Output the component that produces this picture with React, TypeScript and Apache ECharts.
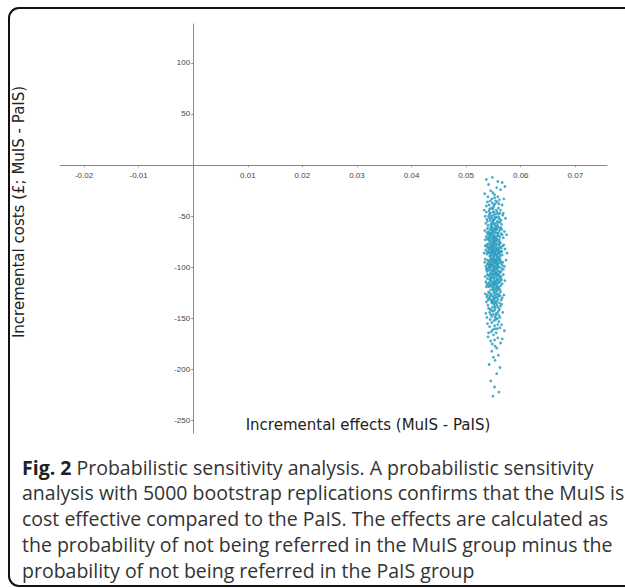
import React, { useEffect, useRef } from "react";
import * as echarts from "echarts";

const xTicks = [-0.02, -0.01, 0.01, 0.02, 0.03, 0.04, 0.05, 0.06, 0.07];
const yTicks = [100, 50, -50, -100, -150, -200, -250];

const xTitle = "Incremental effects (MuIS - PaIS)";
const yTitle = "Incremental costs (£; MuIS - PaIS)";

const captionLines = [
  "{b|Fig. 2} Probabilistic sensitivity analysis. A probabilistic sensitivity",
  "analysis with 5000 bootstrap replications confirms that the MuIS is",
  "cost effective compared to the PaIS. The effects are calculated as",
  "the probability of not being referred in the MuIS group minus the",
  "probability of not being referred in the PaIS group",
];

// bootstrap replications: [incremental effect, incremental cost]
const replications: [number, number][] = [
  [0.0541,-19],[0.0556,-22],[0.0549,-27],[0.0563,-24],[0.0534,-28],[0.0552,-29],[0.0571,-21],[0.0545,-25],[0.0537,-14],[0.0558,-16],[0.0548,-12],[0.0566,-17],
  [0.0558,-31],[0.0547,-33],[0.0539,-36],[0.0553,-38],[0.0561,-34],[0.0550,-41],[0.0543,-43],[0.0566,-39],[0.0555,-44],[0.0548,-37],[0.0537,-40],[0.0559,-42],[0.0552,-32],[0.0544,-35],[0.0563,-44],[0.0551,-39],[0.0540,-31],[0.0557,-36],[0.0546,-42],[0.0569,-33],[0.0554,-35],[0.0533,-44],[0.0560,-38],[0.0549,-43],[0.0542,-39],
  [0.0551,-46],[0.0543,-48],[0.0562,-47],[0.0556,-51],[0.0538,-53],[0.0549,-55],[0.0567,-49],[0.0545,-58],[0.0559,-56],[0.0553,-59],[0.0541,-50],[0.0548,-52],[0.0564,-54],[0.0536,-57],[0.0557,-46],[0.0552,-53],[0.0546,-60],[0.0560,-51],[0.0544,-47],[0.0555,-57],[0.0539,-55],[0.0550,-49],[0.0572,-52],[0.0547,-56],[0.0558,-59],[0.0542,-45],[0.0554,-48],[0.0565,-58],[0.0535,-50],[0.0549,-46],[0.0561,-53],[0.0544,-54],[0.0553,-51],[0.0540,-59],[0.0557,-55],[0.0548,-58],[0.0568,-47],[0.0551,-57],[0.0546,-50],[0.0559,-48],[0.0537,-46],[0.0555,-60],[0.0543,-52],[0.0562,-56],[0.0550,-54],
  [0.0548,-61],[0.0556,-63],[0.0541,-65],[0.0563,-62],[0.0552,-67],[0.0545,-69],[0.0559,-66],[0.0537,-70],[0.0550,-72],[0.0566,-68],[0.0543,-74],[0.0554,-71],[0.0547,-64],[0.0561,-73],[0.0539,-62],[0.0557,-69],[0.0551,-75],[0.0544,-67],[0.0570,-65],[0.0549,-70],[0.0535,-73],[0.0558,-61],[0.0546,-72],[0.0553,-64],[0.0562,-70],[0.0540,-68],[0.0555,-66],[0.0548,-74],[0.0565,-63],[0.0542,-71],[0.0552,-62],[0.0560,-75],[0.0538,-66],[0.0549,-63],[0.0557,-72],[0.0545,-61],[0.0564,-67],[0.0551,-69],[0.0534,-64],[0.0556,-74],[0.0547,-68],[0.0561,-64],[0.0543,-70],[0.0554,-73],[0.0568,-71],[0.0550,-65],[0.0541,-73],[0.0558,-67],[0.0546,-66],[0.0553,-70],[0.0539,-72],[0.0563,-61],[0.0552,-74],[0.0544,-63],[0.0559,-69],[0.0548,-66],[0.0574,-68],[0.0555,-62],[0.0542,-67],[0.0550,-71],
  [0.0553,-76],[0.0545,-78],[0.0561,-77],[0.0539,-80],[0.0550,-82],[0.0567,-79],[0.0547,-84],[0.0558,-81],[0.0542,-86],[0.0555,-88],[0.0536,-83],[0.0552,-87],[0.0564,-85],[0.0548,-76],[0.0557,-89],[0.0544,-81],[0.0560,-83],[0.0551,-79],[0.0540,-77],[0.0566,-88],[0.0549,-85],[0.0556,-77],[0.0543,-89],[0.0562,-80],[0.0546,-82],[0.0554,-84],[0.0538,-87],[0.0559,-86],[0.0551,-90],[0.0571,-82],[0.0547,-80],[0.0541,-84],[0.0556,-82],[0.0563,-76],[0.0549,-88],[0.0535,-79],[0.0553,-81],[0.0545,-87],[0.0560,-78],[0.0552,-85],[0.0544,-76],[0.0558,-90],[0.0548,-83],[0.0565,-84],[0.0539,-85],[0.0555,-79],[0.0550,-77],[0.0542,-82],[0.0561,-87],[0.0546,-89],[0.0557,-84],[0.0569,-78],[0.0553,-86],[0.0540,-81],[0.0549,-80],[0.0562,-89],[0.0545,-85],[0.0554,-78],[0.0537,-78],[0.0559,-82],[0.0551,-83],[0.0547,-86],[0.0564,-81],[0.0543,-79],[0.0556,-87],[0.0533,-86],[0.0552,-89],[0.0560,-85],[0.0548,-78],[0.0575,-86],
  [0.0550,-91],[0.0558,-93],[0.0544,-95],[0.0562,-92],[0.0539,-97],[0.0553,-99],[0.0547,-94],[0.0566,-98],[0.0556,-101],[0.0541,-103],[0.0551,-96],[0.0560,-104],[0.0545,-100],[0.0535,-92],[0.0557,-95],[0.0549,-102],[0.0564,-96],[0.0543,-98],[0.0552,-93],[0.0559,-99],[0.0538,-101],[0.0555,-105],[0.0546,-91],[0.0568,-102],[0.0550,-97],[0.0542,-94],[0.0561,-100],[0.0554,-92],[0.0548,-104],[0.0536,-99],[0.0557,-97],[0.0545,-103],[0.0563,-94],[0.0552,-101],[0.0540,-96],[0.0558,-103],[0.0547,-98],[0.0555,-94],[0.0570,-99],[0.0544,-92],[0.0551,-100],[0.0560,-96],[0.0538,-104],[0.0549,-93],[0.0565,-101],[0.0553,-95],[0.0541,-100],[0.0557,-91],[0.0546,-96],[0.0562,-105],[0.0550,-103],[0.0534,-95],[0.0556,-98],[0.0543,-101],[0.0559,-93],[0.0548,-99],[0.0567,-95],[0.0552,-104],[0.0539,-93],[0.0554,-102],[0.0545,-97],[0.0561,-91],[0.0551,-94],[0.0537,-102],[0.0558,-100],[0.0547,-92],[0.0564,-104],[0.0555,-96],[0.0542,-98],[0.0573,-93],
  [0.0552,-106],[0.0545,-108],[0.0560,-107],[0.0539,-111],[0.0556,-113],[0.0548,-110],[0.0565,-112],[0.0542,-115],[0.0553,-117],[0.0561,-109],[0.0536,-114],[0.0550,-119],[0.0557,-116],[0.0544,-106],[0.0563,-118],[0.0551,-111],[0.0540,-118],[0.0555,-109],[0.0547,-114],[0.0568,-107],[0.0554,-120],[0.0543,-112],[0.0559,-114],[0.0549,-107],[0.0535,-109],[0.0558,-119],[0.0546,-117],[0.0562,-111],[0.0552,-115],[0.0541,-108],[0.0556,-106],[0.0548,-119],[0.0566,-116],[0.0544,-110],[0.0553,-113],[0.0538,-116],[0.0560,-120],[0.0550,-108],[0.0557,-111],[0.0545,-113],[0.0571,-113],[0.0551,-117],[0.0542,-119],[0.0559,-108],[0.0547,-106],[0.0554,-115],[0.0563,-113],[0.0539,-107],[0.0549,-116],[0.0556,-118],[0.0544,-118],[0.0561,-115],[0.0552,-110],[0.0537,-119],[0.0558,-112],[0.0546,-111],[0.0564,-109],[0.0550,-114],[0.0543,-116],[0.0555,-107],
  [0.0549,-121],[0.0557,-123],[0.0543,-125],[0.0562,-122],[0.0553,-127],[0.0538,-129],[0.0551,-131],[0.0559,-128],[0.0546,-133],[0.0566,-130],[0.0554,-134],[0.0541,-124],[0.0556,-126],[0.0548,-132],[0.0561,-135],[0.0544,-128],[0.0552,-122],[0.0535,-126],[0.0558,-131],[0.0550,-129],[0.0563,-124],[0.0547,-135],[0.0555,-121],[0.0540,-132],[0.0553,-130],[0.0569,-127],[0.0545,-122],[0.0557,-133],[0.0551,-125],[0.0542,-130],[0.0560,-126],[0.0548,-128],[0.0556,-129],[0.0537,-134],[0.0552,-133],[0.0564,-132],[0.0546,-126],[0.0554,-124],[0.0549,-134],[0.0559,-121],[0.0544,-131],[0.0562,-128],[0.0550,-123],[0.0539,-127],[0.0555,-135],
  [0.0551,-136],[0.0558,-139],[0.0544,-141],[0.0563,-138],[0.0549,-143],[0.0555,-145],[0.0540,-137],[0.0560,-147],[0.0547,-148],[0.0553,-140],[0.0567,-144],[0.0545,-146],[0.0556,-137],[0.0538,-149],[0.0552,-142],[0.0561,-141],[0.0548,-139],[0.0557,-150],[0.0543,-144],[0.0554,-147],[0.0565,-136],[0.0550,-146],[0.0541,-140],[0.0559,-143],[0.0546,-142],[0.0553,-149],[0.0536,-145],[0.0562,-149],[0.0552,-138],[0.0557,-145],
  [0.0554,-151],[0.0547,-154],[0.0560,-153],[0.0543,-158],[0.0552,-157],[0.0565,-156],[0.0549,-161],[0.0557,-160],[0.0539,-155],[0.0555,-164],[0.0546,-163],[0.0562,-159],[0.0551,-152],[0.0544,-151],[0.0558,-156],[0.0570,-162],[0.0553,-160],[0.0541,-164],
  [0.0550,-166],[0.0558,-169],[0.0545,-172],[0.0563,-174],[0.0553,-177],[0.0540,-168],[0.0556,-179],[0.0548,-175],[0.0566,-170],[0.0552,-171],
  [0.0547,-182],[0.0559,-186],[0.0553,-191],[0.0542,-195],[0.0562,-198],[0.0550,-188],
  [0.0556,-204],[0.0545,-211],[0.0552,-217],[0.0560,-222],[0.0549,-226],
];

const GRID_LEFT = 60;
const GRID_RIGHT = 18;
const GRID_TOP = 24;
const GRID_BOTTOM = 155;
const X_MIN = -0.0244;
const X_MAX = 0.0758;
const Y_MIN = -262;
const Y_MAX = 138;
const W = 625;
const H = 588;

export default function App() {
  const ref = useRef<HTMLDivElement>(null);
  useEffect(() => {
    if (!ref.current) return;
    const chart = echarts.init(ref.current, null, { renderer: "svg" });
    const tickFont = "Liberation Sans";
    // offsets so that the axes sit on the zero lines (labels included)
    const plotW = W - GRID_LEFT - GRID_RIGHT;
    const plotH = H - GRID_TOP - GRID_BOTTOM;
    const zeroYpx = GRID_TOP + (Y_MAX / (Y_MAX - Y_MIN)) * plotH;
    const zeroXpx = GRID_LEFT + (-X_MIN / (X_MAX - X_MIN)) * plotW;
    const xOffset = -(H - GRID_BOTTOM - zeroYpx);
    const yOffset = -(zeroXpx - GRID_LEFT);
    const captionGraphics = captionLines.map((line, i) => ({
      type: "text",
      x: 22,
      y: 467 + i * 25.8,
      style: {
        text: line,
        fontFamily: "Open Sans",
        fontSize: 19.5,
        fill: "#333333",
        textVerticalAlign: "middle",
        rich: {
          b: { fontFamily: "Open Sans", fontSize: 19.5, fontWeight: "bold", fill: "#222222" },
        },
      },
    }));
    chart.setOption({
      animation: false,
      backgroundColor: "#ffffff",
      grid: { left: GRID_LEFT, right: GRID_RIGHT, top: GRID_TOP, bottom: GRID_BOTTOM },
      xAxis: {
        type: "value",
        min: X_MIN,
        max: X_MAX,
        position: "bottom",
        offset: xOffset,
        splitLine: { show: false },
        axisLine: { onZero: false, lineStyle: { color: "#8a8a8a", width: 1 } },
        axisTick: { show: true, length: 2, customValues: xTicks, lineStyle: { color: "#8a8a8a" } },
        axisLabel: {
          customValues: xTicks,
          formatter: (v: number) => String(v),
          fontFamily: tickFont,
          fontSize: 8,
          color: "#444444",
          margin: 6,
        },
      },
      yAxis: {
        type: "value",
        min: Y_MIN,
        max: Y_MAX,
        position: "left",
        offset: yOffset,
        splitLine: { show: false },
        axisLine: { onZero: false, lineStyle: { color: "#8a8a8a", width: 1 } },
        axisTick: { show: true, length: 2, customValues: yTicks, lineStyle: { color: "#8a8a8a" } },
        axisLabel: {
          customValues: yTicks,
          formatter: (v: number) => String(v),
          fontFamily: tickFont,
          fontSize: 8,
          color: "#444444",
          margin: 3,
        },
      },
      series: [
        {
          type: "scatter",
          data: replications,
          symbol: "circle",
          symbolSize: 2.8,
          itemStyle: { color: "#2a9cc0", opacity: 0.85 },
          silent: true,
        },
      ],
      graphic: [
        {
          type: "rect",
          shape: { x: 9, y: 8, width: 640, height: 578, r: 10 },
          style: { fill: "none", stroke: "#111111", lineWidth: 2 },
          silent: true,
        },
        {
          type: "text",
          x: 368,
          y: 425,
          style: {
            text: xTitle,
            fontFamily: "DejaVu Sans",
            fontSize: 15,
            fill: "#222222",
            textAlign: "center",
            textVerticalAlign: "middle",
          },
        },
        {
          type: "text",
          x: 19,
          y: 212,
          rotation: Math.PI / 2,
          style: {
            text: yTitle,
            fontFamily: "DejaVu Sans",
            fontSize: 15,
            fill: "#222222",
            textAlign: "center",
            textVerticalAlign: "middle",
          },
        },
        ...captionGraphics,
      ],
    });
    return () => chart.dispose();
  }, []);
  return (
    <div
      ref={ref}
      style={{ position: "fixed", left: 0, top: 0, width: W, height: H, background: "#fff" }}
    />
  );
}
